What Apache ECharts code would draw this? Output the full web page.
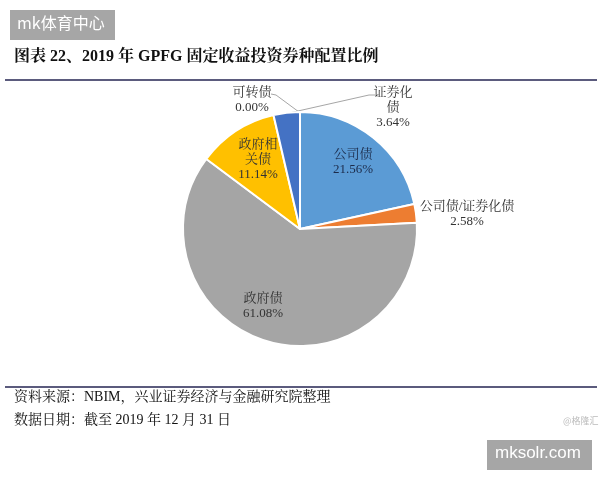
<!DOCTYPE html>
<html><head><meta charset="utf-8">
<script src="https://cdn.jsdelivr.net/npm/echarts@6/dist/echarts.min.js"></script>
<style>html,body{margin:0;padding:0;background:#fff}#c{width:600px;height:480px}</style>
</head><body><div id="c"></div>
<script>
const categories = ['公司债', '公司债/证券化债', '政府债', '政府相关债', '证券化债', '可转债'];
const labelNames = ['公司债', '公司债/证券化债', '政府债', '政府相\n关债', '证券化\n债', '可转债'];
const values = [21.56, 2.58, 61.08, 11.14, 3.64, 0.00];
const titleText = '图表 22、2019 年 GPFG 固定收益投资券种配置比例';
const sourceText = '资料来源：NBIM，兴业证券经济与金融研究院整理';
const dateText = '数据日期：截至 2019 年 12 月 31 日';

const palette = ['#5B9BD5', '#ED7D31', '#A5A5A5', '#FFC000', '#4472C4', '#7F7F7F'];
const serif = "'Liberation Serif','Noto Serif CJK SC','Noto Sans CJK SC',serif";

const labelSpots = {
  0: { x: 353, y: 162 },
  1: { x: 467, y: 214 },
  2: { x: 263, y: 306 },
  3: { x: 258, y: 160 },
  4: { x: 393, y: 108, line: [[289, 113], [369, 95], [375, 95]] },
  5: { x: 252, y: 100, line: [[299, 112], [276, 95], [271, 94]] }
};

const chart = echarts.init(document.getElementById('c'), null, { renderer: 'canvas' });
const data = categories.map((c, i) => ({
  name: c,
  value: values[i],
  itemStyle: { color: palette[i] },
  label: { color: i === 0 ? '#1c2b4a' : '#333' },
  labelLine: { show: !!labelSpots[i].line }
}));

chart.setOption({
  animation: false,
  backgroundColor: '#fff',
  graphic: [
    { type: 'rect', left: 10, top: 10, shape: { width: 105, height: 30 }, style: { fill: '#a6a6a6' } },
    { type: 'text', left: 17, top: 15, style: { text: 'mk体育中心', fill: '#fff', font: "16px 'Noto Sans CJK SC', sans-serif" } },
    { type: 'text', left: 14, top: 49, style: { text: titleText, fill: '#111', font: "bold 16px " + serif } },
    { type: 'line', shape: { x1: 5, y1: 80, x2: 597, y2: 80 }, style: { stroke: '#5b5b7d', lineWidth: 2 } },
    { type: 'line', shape: { x1: 5, y1: 387, x2: 597, y2: 387 }, style: { stroke: '#5b5b7d', lineWidth: 2 } },
    { type: 'text', left: 14, top: 390, style: { text: sourceText, fill: '#111', font: "14px " + serif } },
    { type: 'text', left: 14, top: 413, style: { text: dateText, fill: '#111', font: "14px " + serif } },
    { type: 'text', left: 563, top: 416, style: { text: '@格隆汇', fill: '#bbb', font: "9px 'Noto Sans CJK SC', sans-serif" } },
    { type: 'rect', left: 487, top: 440, shape: { width: 105, height: 30 }, style: { fill: '#a6a6a6' } },
    { type: 'text', left: 495, top: 445, style: { text: 'mksolr.com', fill: '#fff', font: "17px 'Liberation Sans', sans-serif" } }
  ],
  series: [{
    type: 'pie',
    center: [300, 229],
    radius: 117,
    startAngle: 90,
    clockwise: true,
    avoidLabelOverlap: false,
    itemStyle: { borderColor: '#fff', borderWidth: 2 },
    label: {
      show: true,
      position: 'outside',
      fontFamily: serif,
      fontSize: 13,
      lineHeight: 15,
      align: 'center',
      formatter: p => labelNames[p.dataIndex] + '\n' + values[p.dataIndex].toFixed(2) + '%'
    },
    labelLine: { lineStyle: { color: '#a6a6a6', width: 1 } },
    labelLayout: function (params) {
      const s = labelSpots[params.dataIndex];
      const out = { x: s.x, y: s.y, align: 'center', verticalAlign: 'middle' };
      if (s.line) out.labelLinePoints = s.line;
      return out;
    },
    data: data
  }]
});
</script></body></html>
